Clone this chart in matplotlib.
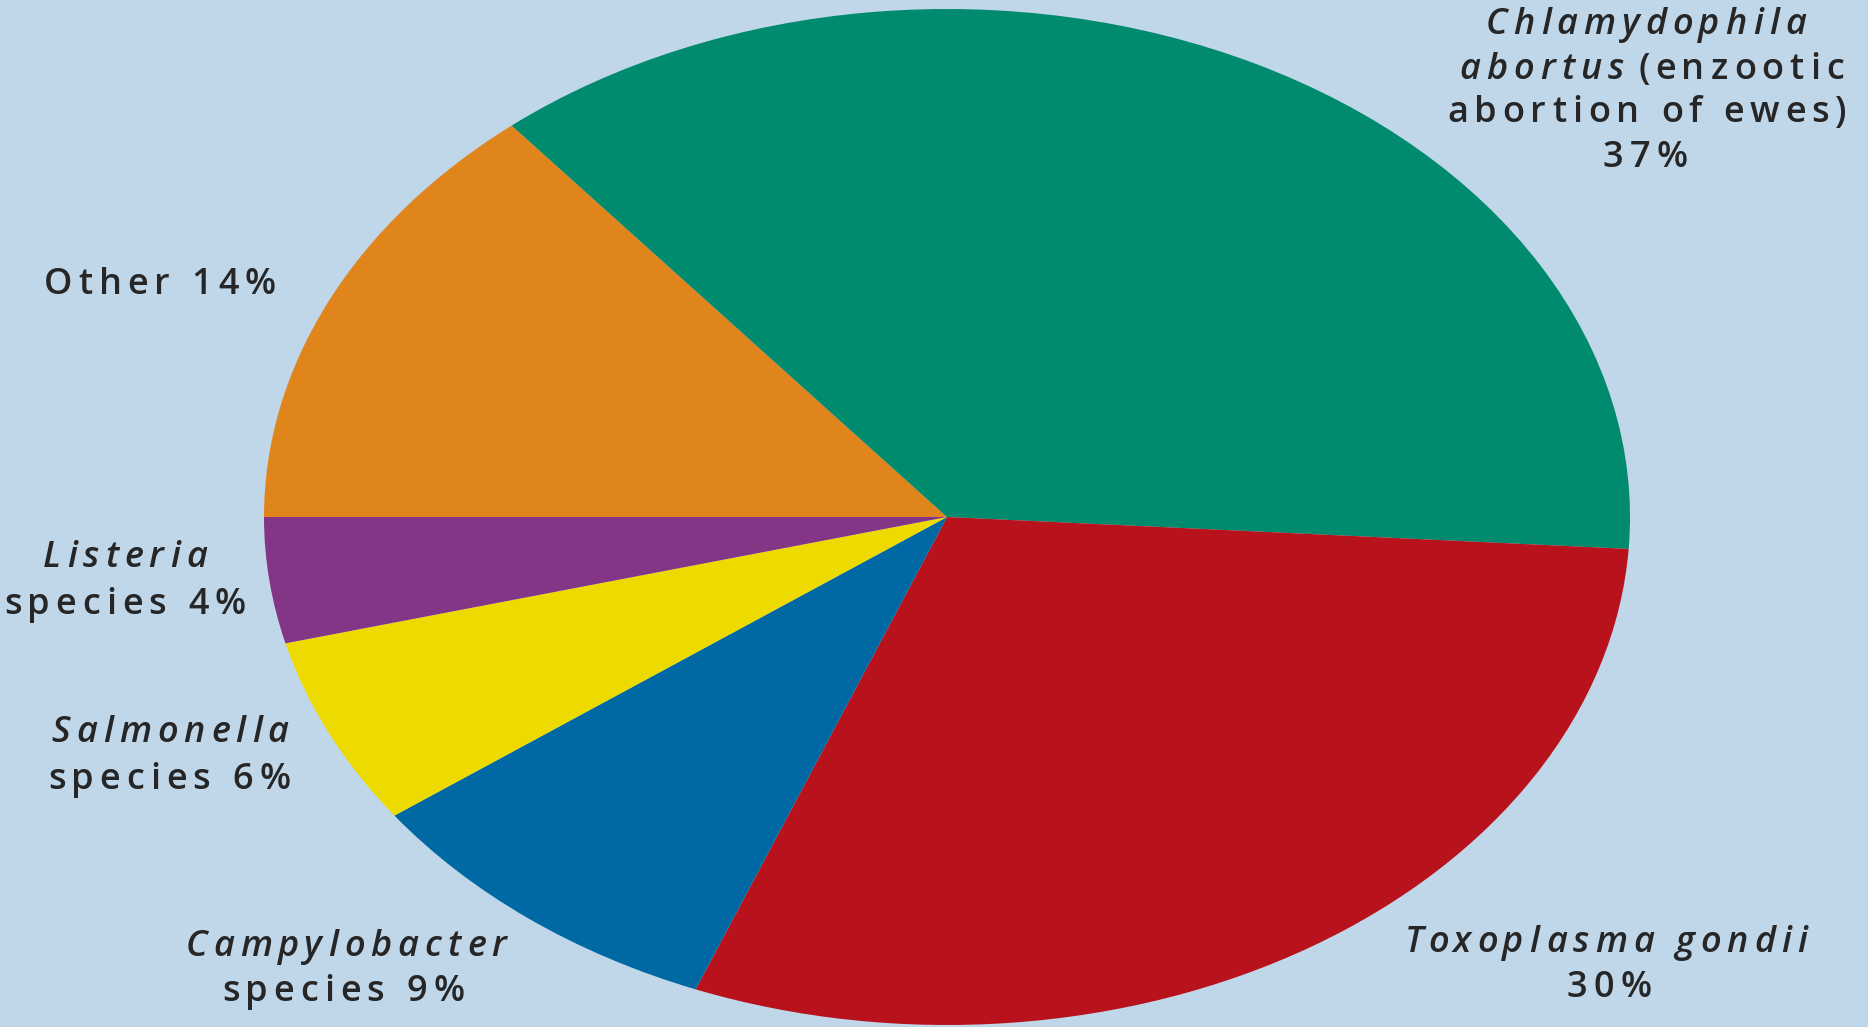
import matplotlib
matplotlib.use("Agg")
import matplotlib.pyplot as plt

# Data (clockwise from 9 o'clock)
categories = ["Other", "Chlamydophila abortus", "Toxoplasma gondii",
              "Campylobacter species", "Salmonella species", "Listeria species"]
values = [14, 37, 30, 9, 6, 4]
colors = ["#E0851B", "#008A6E", "#B8121C", "#0069A4", "#EDDB00", "#833685"]

BG = "#C0D6E9"
TXT = "#262626"
W, H = 1868, 1027

fig = plt.figure(figsize=(W / 100, H / 100), dpi=100, facecolor=BG)
# ellipse: center, radii in pixels
cx, cy, rx, ry = 947, 517, 683, 508
ax = fig.add_axes([(cx - rx) / W, (H - cy - ry) / H, 2 * rx / W, 2 * ry / H])
ax.set_facecolor(BG)
ax.pie(values, colors=colors, startangle=180, counterclock=False,
       wedgeprops=dict(linewidth=0))
ax.set_aspect("auto")
ax.set_xlim(-1, 1)
ax.set_ylim(-1, 1)
ax.axis("off")

FS = 26
FAM = ["Open Sans", "DejaVu Sans"]
WEIGHT = "semibold"
TRACK = 6.0  # px of extra letter spacing
renderer = fig.canvas.get_renderer()


def _kw(italic):
    return dict(fontsize=FS, family=FAM, weight=WEIGHT,
                style="italic" if italic else "normal")


def _width(s, italic):
    if not s:
        return 0.0
    tt = fig.text(0, 0, s, **_kw(italic))
    w = tt.get_window_extent(renderer).width
    tt.remove()
    return w


def t(x, y, s, italic=False, ha="center"):
    ref = _width("x", italic)
    offs = [(_width(s[:i] + "x", italic) - ref) if i else 0.0 for i in range(len(s))]
    offs = [o + TRACK * i for i, o in enumerate(offs)]
    total = _width(s, italic) + TRACK * (len(s) - 1)
    if ha == "center":
        x0 = x - total / 2
    elif ha == "right":
        x0 = x - total
    else:
        x0 = x
    for ch, o in zip(s, offs):
        if ch == " ":
            continue
        fig.text((x0 + o) / W, 1 - y / H, ch, ha="left", va="center",
                 color=TXT, **_kw(italic))


# Chlamydophila block
t(1646, 25, "Chlamydophila", italic=True)
t(1624, 70, "abortus", italic=True, ha="right")
t(1638, 70, "(enzootic", ha="left")
t(1647, 113, "abortion of ewes)")
t(1645, 158, f"{values[1]}%")

# Other
t(160, 285, f"Other {values[0]}%")

# Listeria
t(125, 558, "Listeria", italic=True)
t(125, 605, f"species {values[5]}%")

# Salmonella
t(170, 733, "Salmonella", italic=True)
t(169, 780, f"species {values[4]}%")

# Campylobacter
t(346, 947, "Campylobacter", italic=True)
t(343, 992, f"species {values[3]}%")

# Toxoplasma
t(1606, 943, "Toxoplasma gondii", italic=True)
t(1609, 988, f"{values[2]}%")

fig.savefig("out.png", dpi=100, facecolor=BG)
